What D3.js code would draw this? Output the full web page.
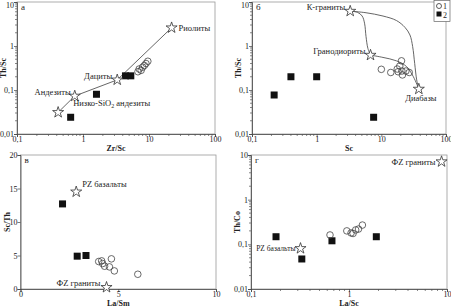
<!DOCTYPE html>
<html>
<head>
<meta charset="utf-8">
<script src="https://cdn.jsdelivr.net/npm/d3@7"></script>
<style>
  body { margin: 0; background: #fff; }
  svg text { font-family: "Liberation Serif", "DejaVu Serif", serif; fill: #222; }
</style>
</head>
<body>
<script>
// panel а: Th/Sc vs Zr/Sc
var aStars = [[0.42, 0.031], [0.75, 0.073], [3.3, 0.17], [22, 2.6]]
var aStarNames = ['', 'Андезиты', 'Дациты', 'Риолиты']
var aSquares = [[0.65, 0.024], [1.6, 0.08], [4.4, 0.21], [5.3, 0.21]]
var aCircles = [[6.8, 0.26], [7.1, 0.3], [7.6, 0.28], [8.0, 0.33], [8.5, 0.36], [9.0, 0.4], [9.6, 0.45]]

// panel б: Th/Sc vs Sc
var bStars = [[3.3, 6.2], [6.8, 0.62], [38, 0.105]]
var bStarNames = ['К-граниты', 'Гранодиориты', 'Диабазы']
var bSquares = [[0.22, 0.077], [0.4, 0.2], [1.0, 0.2], [7.6, 0.024]]
var bCircles = [[10, 0.295], [14, 0.25], [17.6, 0.3], [18.2, 0.26], [19.3, 0.35], [20.5, 0.46], [20.8, 0.27], [21.2, 0.22], [24, 0.27], [27, 0.25]]
var bCurveOuter = [[3.3, 6.2], [5.8, 5.7], [10.6, 4.8], [17.1, 3.8], [23.2, 2.65], [27.7, 1.78], [30.5, 0.97], [32.8, 0.4], [35.2, 0.17], [38, 0.105]]
var bCurveInner = [[3.3, 6.2], [4.3, 5.8], [5.05, 4.8], [5.5, 3.3], [5.8, 1.63], [6.2, 0.88], [6.8, 0.62]]
var bCurveLower = [[6.8, 0.62], [10.6, 0.55], [17.1, 0.46], [24.6, 0.34], [31.3, 0.2], [38, 0.105]]

// panel в: Sc/Th vs La/Sm
var cStars = [[2.85, 14.5], [4.4, 0.25]]
var cStarNames = ['PZ базальты', 'ФZ граниты']
var cSquares = [[2.15, 12.7], [2.9, 4.9], [3.35, 5.0]]
var cCircles = [[4.0, 4.1], [4.15, 4.2], [4.2, 3.8], [4.3, 3.4], [4.55, 3.3], [4.65, 4.5], [4.8, 2.7], [6.0, 2.2]]

// panel г: Th/Co vs La/Sc
var dStars = [[8.8, 7.1], [0.32, 0.081]]
var dStarNames = ['ФZ граниты', 'PZ базальты']
var dSquares = [[0.18, 0.148], [0.33, 0.047], [0.67, 0.12], [1.9, 0.148]]
var dCircles = [[0.64, 0.162], [0.95, 0.2], [1.05, 0.18], [1.1, 0.175], [1.17, 0.21], [1.25, 0.22], [1.37, 0.27]]

var logTicks = ['0,01', '0,1', '1', '10', '100']

var W = 451, H = 307
var svg = d3.select('body').append('svg').attr('width', W).attr('height', H)

function fmtLog(v) {
  var e = Math.round(Math.log10(v))
  return logTicks[e + 2]
}

function decades(dom) {
  var maj = [], min = []
  var lo = Math.round(Math.log10(dom[0])), hi = Math.round(Math.log10(dom[1]))
  for (var e = lo; e <= hi; e++) {
    maj.push(Math.pow(10, e))
    if (e < hi) for (var k = 2; k < 10; k++) min.push(k * Math.pow(10, e))
  }
  return [maj, min]
}

function drawPanel(o) {
  var g = svg.append('g')
  var x = o.xlog ? d3.scaleLog() : d3.scaleLinear()
  var y = o.ylog ? d3.scaleLog() : d3.scaleLinear()
  x.domain(o.xd).range([o.l, o.r])
  y.domain(o.yd).range([o.b, o.t])

  // frame
  g.append('rect').attr('x', o.l).attr('y', o.t)
    .attr('width', o.r - o.l).attr('height', o.b - o.t)
    .attr('fill', 'none').attr('stroke', '#999').attr('stroke-width', 0.8)

  // x axis
  var xa = g.append('g').attr('transform', 'translate(0,' + o.b + ')')
  if (o.xlog) {
    var dx = decades(o.xd)
    xa.call(d3.axisBottom(x).tickValues(dx[0]).tickFormat(fmtLog).tickSize(3))
    xa.selectAll('.tickm').data(dx[1]).enter().append('line')
      .attr('x1', d => x(d)).attr('x2', d => x(d)).attr('y1', 0).attr('y2', 2)
      .attr('stroke', '#555').attr('stroke-width', 0.7)
  } else {
    xa.call(d3.axisBottom(x).tickValues(o.xticks).tickSize(3))
  }
  // y axis
  var ya = g.append('g').attr('transform', 'translate(' + o.l + ',0)')
  if (o.ylog) {
    var dy = decades(o.yd)
    ya.call(d3.axisLeft(y).tickValues(dy[0]).tickFormat(fmtLog).tickSize(3))
    ya.selectAll('.tickm').data(dy[1]).enter().append('line')
      .attr('y1', d => y(d)).attr('y2', d => y(d)).attr('x1', 0).attr('x2', -2)
      .attr('stroke', '#555').attr('stroke-width', 0.7)
  } else {
    ya.call(d3.axisLeft(y).tickValues(o.yticks).tickSize(3))
  }
  g.selectAll('.domain').attr('stroke', '#444').attr('stroke-width', 0.8)
  g.selectAll('.tick line').attr('stroke', '#444').attr('stroke-width', 0.7)
  g.selectAll('.tick text').attr('font-size', 8).attr('font-family', '"Liberation Serif", serif').attr('fill', '#333')
  xa.selectAll('.tick text').attr('y', 2).attr('dy', '0.71em')
  ya.selectAll('.tick text').attr('x', -3)
  // keep the top y label inside the picture
  ya.selectAll('.tick text').filter(d => y(d) < 6).attr('dy', '0.7em')

  // titles
  g.append('text').attr('x', (o.l + o.r) / 2).attr('y', o.b + 17)
    .attr('text-anchor', 'middle').attr('font-size', 8).attr('font-weight', 'bold').text(o.xt)
  g.append('text').attr('transform', 'translate(' + (o.l - 11) + ',' + ((o.t + o.b) / 2) + ') rotate(-90)')
    .attr('text-anchor', 'middle').attr('font-size', 8).attr('font-weight', 'bold').text(o.yt)
  g.append('text').attr('x', o.l + 4).attr('y', o.t + 8).attr('font-size', 9).text(o.letter)

  var line = d3.line().x(d => x(d[0])).y(d => y(d[1]))
  ;(o.lines || []).forEach(function (ln) {
    g.append('path').attr('d', line.curve(ln.curve || d3.curveLinear)(ln.pts))
      .attr('fill', 'none').attr('stroke', '#555').attr('stroke-width', 0.9)
  })

  g.selectAll('.sq').data(o.squares).enter().append('rect')
    .attr('x', d => x(d[0]) - 3.5).attr('y', d => y(d[1]) - 3.5)
    .attr('width', 7).attr('height', 7).attr('fill', '#111')
  g.selectAll('.ci').data(o.circles).enter().append('circle')
    .attr('cx', d => x(d[0])).attr('cy', d => y(d[1])).attr('r', 3.3)
    .attr('fill', 'none').attr('stroke', '#444').attr('stroke-width', 0.8)
  var star = d3.symbol().type(d3.symbolStar).size(38)
  g.selectAll('.st').data(o.stars).enter().append('path')
    .attr('transform', d => 'translate(' + x(d[0]) + ',' + y(d[1]) + ')')
    .attr('d', star).attr('fill', '#fff').attr('stroke', '#333').attr('stroke-width', 0.8)

  o.labels.forEach(function (lb) {
    var p = o.stars[lb.i]
    var t = g.append('text').attr('x', x(p[0]) + lb.dx).attr('y', y(p[1]) + lb.dy)
      .attr('text-anchor', lb.anchor || 'start').attr('font-size', lb.fs || 8.5)
    if (lb.sub) {
      t.append('tspan').text(lb.text[0])
      t.append('tspan').attr('font-size', 6).attr('dy', 2).text(lb.sub)
      t.append('tspan').attr('dy', -2).text(lb.text[1])
    } else {
      t.text(lb.text)
    }
  })
}

drawPanel({
  l: 17, r: 215, t: 2, b: 134, xlog: true, ylog: true,
  xd: [0.1, 100], yd: [0.01, 10], xt: 'Zr/Sc', yt: 'Th/Sc', letter: 'а',
  squares: aSquares, circles: aCircles, stars: aStars,
  lines: [{ pts: aStars }],
  labels: [
    { i: 3, text: aStarNames[3], dx: 7, dy: 3 },
    { i: 2, text: aStarNames[2], dx: -5, dy: -1, anchor: 'end' },
    { i: 1, text: aStarNames[1], dx: -4, dy: -1, anchor: 'end' },
    { i: 0, text: ['Низко-SiO', ' андезиты'], sub: '2', dx: 15, dy: -6 }
  ]
})

drawPanel({
  l: 252, r: 446, t: 2, b: 134, xlog: true, ylog: true,
  xd: [0.1, 100], yd: [0.01, 10], xt: 'Sc', yt: 'Th/Sc', letter: 'б',
  squares: bSquares, circles: bCircles, stars: bStars,
  lines: [
    { pts: bCurveOuter, curve: d3.curveCatmullRom },
    { pts: bCurveInner, curve: d3.curveCatmullRom },
    { pts: bCurveLower, curve: d3.curveCatmullRom }
  ],
  labels: [
    { i: 0, text: bStarNames[0], dx: -5, dy: -1, anchor: 'end' },
    { i: 1, text: bStarNames[1], dx: -5, dy: -1, anchor: 'end' },
    { i: 2, text: bStarNames[2], dx: 2, dy: 12, anchor: 'middle' }
  ]
})

// legend in б
var lg = svg.append('g')
lg.append('rect').attr('x', 434).attr('y', 0.5).attr('width', 16).attr('height', 21)
  .attr('fill', '#fff').attr('stroke', '#666').attr('stroke-width', 0.7)
lg.append('circle').attr('cx', 439).attr('cy', 6).attr('r', 2.5).attr('fill', 'none').attr('stroke', '#333').attr('stroke-width', 0.8)
lg.append('rect').attr('x', 436.5).attr('y', 11.5).attr('width', 5).attr('height', 5).attr('fill', '#111')
lg.append('text').attr('x', 443).attr('y', 9).attr('font-size', 8).text('1')
lg.append('text').attr('x', 443).attr('y', 17.5).attr('font-size', 8).text('2')

drawPanel({
  l: 20.5, r: 216, t: 155, b: 289, xlog: false, ylog: false,
  xd: [0, 10], yd: [0, 20], xticks: [0, 5, 10], yticks: [0, 5, 10, 15, 20],
  xt: 'La/Sm', yt: 'Sc/Th', letter: 'в',
  squares: cSquares, circles: cCircles, stars: cStars,
  labels: [
    { i: 0, text: cStarNames[0], dx: 6, dy: -5 },
    { i: 1, text: cStarNames[1], dx: -6, dy: -1, anchor: 'end' }
  ]
})

drawPanel({
  l: 251, r: 447, t: 155, b: 289, xlog: true, ylog: true,
  xd: [0.1, 10], yd: [0.01, 10], xt: 'La/Sc', yt: 'Th/Co', letter: 'г',
  squares: dSquares, circles: dCircles, stars: dStars,
  labels: [
    { i: 0, text: dStarNames[0], dx: -6, dy: 3, anchor: 'end' },
    { i: 1, text: dStarNames[1], dx: -5, dy: 3, anchor: 'end', fs: 7.5 }
  ]
})
</script>
</body>
</html>
